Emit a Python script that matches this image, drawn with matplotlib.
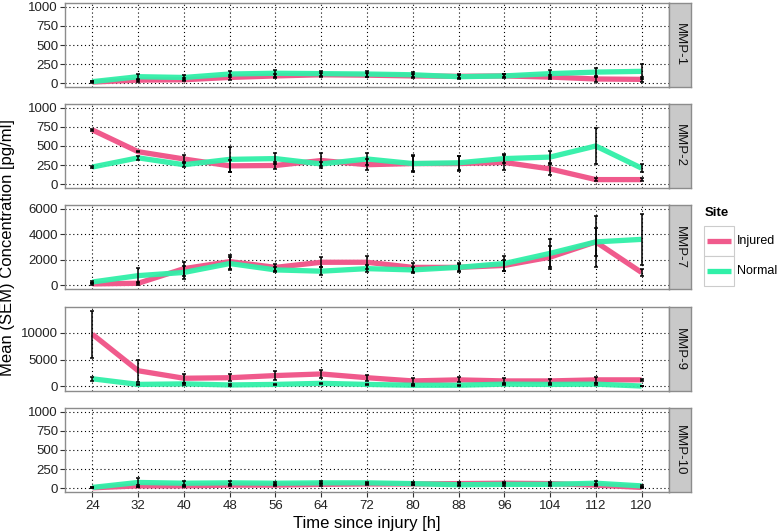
import matplotlib
matplotlib.use("Agg")
import matplotlib.pyplot as plt
from matplotlib.patches import Rectangle
from matplotlib.lines import Line2D

plt.rcParams['font.family'] = ['Liberation Sans Narrow', 'Liberation Sans', 'DejaVu Sans']

hours = [24, 32, 40, 48, 56, 64, 72, 80, 88, 96, 104, 112, 120]
panels = ["MMP-1", "MMP-2", "MMP-7", "MMP-9", "MMP-10"]
sites = ["Injured", "Normal"]

mmp1_inj = [15, 40, 45, 75, 95, 110, 105, 95, 90, 95, 80, 55, 50]
mmp1_inj_sem = [10, 20, 20, 30, 30, 25, 25, 25, 20, 20, 30, 35, 30]
mmp1_nor = [20, 85, 75, 120, 130, 125, 120, 110, 85, 95, 125, 145, 155]
mmp1_nor_sem = [10, 40, 30, 45, 45, 35, 35, 35, 30, 30, 45, 60, 95]

mmp2_inj = [710, 425, 330, 240, 245, 310, 255, 270, 270, 285, 200, 60, 60]
mmp2_inj_sem = [10, 10, 55, 80, 50, 95, 75, 110, 95, 100, 80, 20, 15]
mmp2_nor = [225, 345, 255, 325, 335, 265, 330, 270, 280, 335, 355, 500, 210]
mmp2_nor_sem = [10, 30, 30, 165, 70, 30, 80, 100, 95, 55, 85, 235, 55]

mmp7_inj = [100, 150, 1300, 1850, 1400, 1800, 1800, 1400, 1400, 1550, 2200, 3400, 1000]
mmp7_inj_sem = [50, 100, 550, 550, 250, 400, 500, 350, 350, 400, 900, 1100, 300]
mmp7_nor = [250, 750, 1000, 1700, 1200, 1100, 1300, 1200, 1400, 1700, 2500, 3400, 3600]
mmp7_nor_sem = [100, 600, 500, 500, 200, 300, 300, 250, 300, 600, 1100, 2000, 2000]

mmp9_inj = [9700, 2900, 1500, 1600, 2000, 2300, 1600, 1000, 1200, 1000, 1000, 1200, 1200]
mmp9_inj_sem = [4400, 2100, 800, 700, 900, 700, 600, 500, 450, 500, 450, 550, 150]
mmp9_nor = [1400, 350, 450, 250, 350, 550, 350, 200, 200, 400, 350, 400, 50]
mmp9_nor_sem = [400, 150, 150, 150, 150, 150, 150, 100, 100, 150, 150, 150, 50]

mmp10_inj = [5, 30, 30, 40, 40, 50, 55, 55, 60, 65, 60, 40, 10]
mmp10_inj_sem = [5, 15, 15, 15, 15, 15, 15, 15, 15, 15, 15, 15, 5]
mmp10_nor = [10, 75, 65, 70, 65, 70, 70, 60, 45, 50, 50, 65, 30]
mmp10_nor_sem = [5, 55, 30, 25, 20, 20, 15, 20, 20, 20, 20, 25, 15]

series = {
    "MMP-1": (mmp1_inj, mmp1_inj_sem, mmp1_nor, mmp1_nor_sem),
    "MMP-2": (mmp2_inj, mmp2_inj_sem, mmp2_nor, mmp2_nor_sem),
    "MMP-7": (mmp7_inj, mmp7_inj_sem, mmp7_nor, mmp7_nor_sem),
    "MMP-9": (mmp9_inj, mmp9_inj_sem, mmp9_nor, mmp9_nor_sem),
    "MMP-10": (mmp10_inj, mmp10_inj_sem, mmp10_nor, mmp10_nor_sem),
}
yticks = {
    "MMP-1": [0, 250, 500, 750, 1000],
    "MMP-2": [0, 250, 500, 750, 1000],
    "MMP-7": [0, 2000, 4000, 6000],
    "MMP-9": [0, 5000, 10000],
    "MMP-10": [0, 250, 500, 750, 1000],
}
ylims = {
    "MMP-1": (-50, 1050),
    "MMP-2": (-50, 1050),
    "MMP-7": (-300, 6300),
    "MMP-9": (-880, 14800),
    "MMP-10": (-50, 1050),
}

colors = {"Injured": "#F05A8C", "Normal": "#30F0A8"}

W, H = 780, 532
fig = plt.figure(figsize=(W / 100, H / 100), dpi=100)

left_px, right_px, strip_px = 65, 669, 691
tops = [3, 104, 205, 307, 408]
ph = 84

tick_col = "#222222"
for i, name in enumerate(panels):
    top = tops[i]
    ax = fig.add_axes([left_px / W, 1 - (top + ph) / H, (right_px - left_px) / W, ph / H])
    inj, inj_sem, nor, nor_sem = series[name]
    ax.plot(hours, inj, color=colors["Injured"], lw=3.8, solid_capstyle='butt', zorder=3)
    ax.plot(hours, nor, color=colors["Normal"], lw=3.8, solid_capstyle='butt', zorder=4, alpha=0.95)
    ax.errorbar(hours, inj, yerr=inj_sem, fmt='none', ecolor='black', elinewidth=1.1, capsize=1.2, capthick=1.1, zorder=5)
    ax.errorbar(hours, nor, yerr=nor_sem, fmt='none', ecolor='black', elinewidth=1.1, capsize=1.2, capthick=1.1, zorder=5)
    ax.set_xlim(19.2, 124.8)
    ax.set_ylim(*ylims[name])
    ax.set_yticks(yticks[name])
    ax.set_yticklabels([str(v) for v in yticks[name]])
    ax.set_xticks(hours)
    ax.grid(True, color='black', linestyle=(0, (1, 2.5)), linewidth=0.8)
    ax.set_axisbelow(True)
    for sp in ax.spines.values():
        sp.set_color('#8c8c8c')
        sp.set_linewidth(1.0)
    ax.tick_params(axis='y', length=3.5, width=0.8, color='#333333', labelsize=9.5, labelcolor=tick_col, pad=1.5)
    if i < len(panels) - 1:
        ax.tick_params(axis='x', length=0, labelbottom=False)
    else:
        ax.tick_params(axis='x', length=3.5, width=0.8, color='#333333', labelsize=9.5, labelcolor=tick_col, pad=2)
        ax.set_xticklabels([str(h) for h in hours])
        ax.set_xlabel("Time since injury [h]", fontsize=12, color='black', labelpad=3)

    sax = fig.add_axes([right_px / W, 1 - (top + ph) / H, (strip_px - right_px) / W, ph / H])
    sax.set_xticks([]); sax.set_yticks([])
    sax.set_facecolor('#C9C9C9')
    for sp in sax.spines.values():
        sp.set_color('#8c8c8c')
        sp.set_linewidth(1.0)
    sax.text(0.5, 0.5, name, rotation=-90, ha='center', va='center', fontsize=9.5,
             color='#111111', transform=sax.transAxes)

fig.text(8 / W, 1 - 248 / H, "Mean (SEM) Concentration [pg/ml]", rotation=90,
         ha='center', va='center', fontsize=12)

# legend
fig.text(705 / W, 1 - 213 / H, "Site", fontsize=9.5, fontweight='bold', ha='left', va='center')
key_x0, key_x1 = 704, 734
key_tops = [226, 256]
key_h = 30
for j, s in enumerate(sites):
    kt = key_tops[j]
    fig.patches.append(Rectangle((key_x0 / W, 1 - (kt + key_h) / H), (key_x1 - key_x0) / W, key_h / H,
                                 transform=fig.transFigure, facecolor='white', edgecolor='#cccccc', lw=0.8))
    yc = 1 - (kt + key_h / 2) / H
    fig.lines.append(Line2D([(key_x0 + 3) / W, (key_x1 - 3) / W], [yc, yc], transform=fig.transFigure,
                            color=colors[s], lw=3.8, solid_capstyle='butt'))
    fig.text((key_x1 + 3) / W, yc, s, fontsize=9, ha='left', va='center')

fig.savefig("out.png", dpi=100)
